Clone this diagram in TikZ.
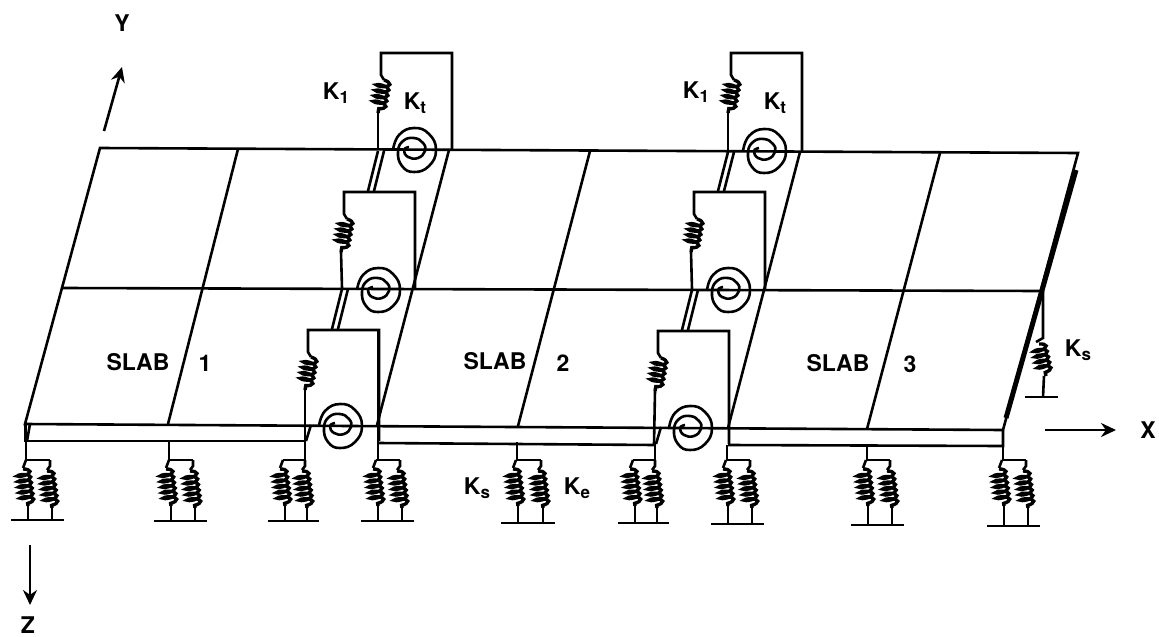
\documentclass[tikz,border=0pt]{standalone}
\usepackage{fontspec}
\setmainfont{TeX Gyre Heros}
\usetikzlibrary{arrows.meta,decorations.pathmorphing}
\newcommand{\coilline}[4]{\draw[coilstyle] (#1,#2) -- (#3,#4);}
\newcommand{\ksub}[1]{K\raisebox{-4pt}{\fontsize{17}{17}\selectfont #1}}
\newcommand{\springpair}[5]{
  \draw[line] (#4,#3) -- (#4,460);
  \draw[line] (#1,460) -- (#2,460);
  \draw[line] (#1,460) -- (#1-3,468);
  \draw[line] (#2,460) -- (#2,466) -- (#2-3,470);
  \coilline{#1-3}{469}{#1+2}{506}
  \coilline{#2-3}{471}{#2+2}{508}
  \draw[line] (#1+2,506) -- (#1+2,#5);
  \draw[line] (#2+2,508) -- (#2+2,#5);
  \draw[line] (#1-15,#5) -- (#2+14,#5);
}
\newcommand{\springframe}[4]{
  \draw[line] (#1+71,#3) -- (#1+71,#2) -- (#1,#2) -- (#1,#2+22) -- (#1+3,#2+27);
  \coilline{#1+3}{#2+27}{#1-3}{#2+60}
  \draw[line] (#1-3,#2+60) -- (#4,#3);
}
\newcommand{\doublelink}[4]{
  \draw[line] (#1,#2) -- (#3,#4);
  \draw[line] (#1+6,#2) -- (#3+6,#4);
}
\newcommand{\spiral}[2]{
  \draw[line,shift={(#1,#2)}] plot[smooth,tension=0.8] coordinates {(-21,0) (-15,-15) (0,-22) (15,-16) (22,0) (15,16) (0,22) (-12,16) (-16,2) (-11,-9) (0,-12) (9,-7) (11,1) (4,8) (-6,7) (-10,0) (-5,-3)};
}
\begin{document}
\begin{tikzpicture}[x=1pt,y=-1pt]
  \tikzstyle{line}=[line width=2.6pt]
  \tikzstyle{coilstyle}=[line width=3.4pt,decorate,decoration={coil,aspect=0.3,segment length=5.6pt,amplitude=6.5pt}]
  \tikzstyle{label}=[inner sep=0pt,font=\bfseries\fontsize{23}{25}\selectfont]
  \tikzstyle{axis}=[line width=2.6pt,-{Stealth[length=15pt,width=14pt]}]
  \useasboundingbox (0,0) rectangle (1159,637);
  % plate
  \coordinate (TL) at (100,148);
  \coordinate (TR) at (1078,153);
  \coordinate (ML) at (63,288);
  \coordinate (MR) at (1040,291);
  \coordinate (BL) at (25,424);
  \coordinate (BR) at (1003,430);
  \coordinate (FL) at (25,441);
  \coordinate (FR) at (1003,446);
  \draw[line] (TL) -- (TR) -- (BR) -- (BL) -- cycle;
  \draw[line] (ML) -- (MR);
  \draw[line] (BL) -- (FL) -- (305,441);
  \draw[line] (378,443) -- (655,445);
  \draw[line] (728,445) -- (FR) -- (BR);
  \draw[line] (30,424) -- (27,441);
  \draw[line width=5pt] (1076,170) -- (1006,418);
  % cross lines
  \draw[line] (238,149) -- (168,424);
  \draw[line] (449,150) -- (377,425);
  \draw[line] (590,151) -- (518,426);
  \draw[line] (800,152) -- (728,428);
  \draw[line] (940,153) -- (867,429);
  % joints
  \springframe{381}{53}{150}{378}
  \springframe{344}{192}{288}{342}
  \springframe{308}{330}{441}{305}
  \springframe{731}{53}{152}{728}
  \springframe{694}{192}{289}{692}
  \springframe{658}{331}{444}{654}
  \doublelink{378}{151}{368}{191}
  \doublelink{342}{289}{332}{329}
  \doublelink{728}{152}{718}{191}
  \doublelink{692}{290}{682}{330}
  \draw[line] (311,425) -- (306,441);
  \draw[line] (661,427) -- (656,444);
  \draw[line] (378,330) -- (378,444);
  \draw[line] (729,331) -- (729,446);
  \spiral{414}{150}
  \spiral{378}{290}
  \spiral{340}{426}
  \spiral{764}{151}
  \spiral{728}{290}
  \spiral{690}{428}
  % springs
  \springpair{26}{50}{424}{26}{520}
  \springpair{169}{193}{441}{169}{521}
  \springpair{283}{305}{441}{305}{521}
  \springpair{376}{400}{441}{378}{521}
  \springpair{516}{541}{442}{517}{523}
  \springpair{633}{655}{444}{655}{523}
  \springpair{726}{750}{445}{727}{524}
  \springpair{866}{890}{445}{867}{525}
  \springpair{1002}{1026}{446}{1003}{526}
  \draw[line] (1043,291) -- (1043,338) -- (1036,342);
  \coilline{1039}{344}{1046}{376}
  \draw[line] (1044,376) -- (1043,397);
  \draw[line] (1025,397) -- (1058,397);
  % axis
  \node[label] (ylabel) at (122,23) {Y};
  \node[label] (xlabel) at (1148,430) {X};
  \node[label] (zlabel) at (28,625) {Z};
  \coordinate (ystart) at (104,131);
  \coordinate (yend) at (122,67);
  \coordinate (xstart) at (1045,430);
  \coordinate (xend) at (1116,430);
  \coordinate (zstart) at (30,545);
  \coordinate (zend) at (30,605);
  \draw[axis] (ystart) -- (yend);
  \draw[axis] (xstart) -- (xend);
  \draw[axis] (zstart) -- (zend);
  % labels
  \node[label] (slab1) at (138,362) {SLAB};
  \node[label] (num1) at (205,363) {1};
  \node[label] (slab2) at (495,361) {SLAB};
  \node[label] (num2) at (563,363) {2};
  \node[label] (slab3) at (838,363) {SLAB};
  \node[label] (num3) at (910,364) {3};
  \node[label] (k1a) at (336,93) {\ksub{1}};
  \node[label] (kta) at (415,103) {\ksub{t}};
  \node[label] (k1b) at (696,92) {\ksub{1}};
  \node[label] (ktb) at (775,103) {\ksub{t}};
  \node[label] (ksa) at (477,488) {\ksub{s}};
  \node[label] (kea) at (577,488) {\ksub{e}};
  \node[label] (ksb) at (1078,350) {\ksub{s}};
\end{tikzpicture}
\end{document}
